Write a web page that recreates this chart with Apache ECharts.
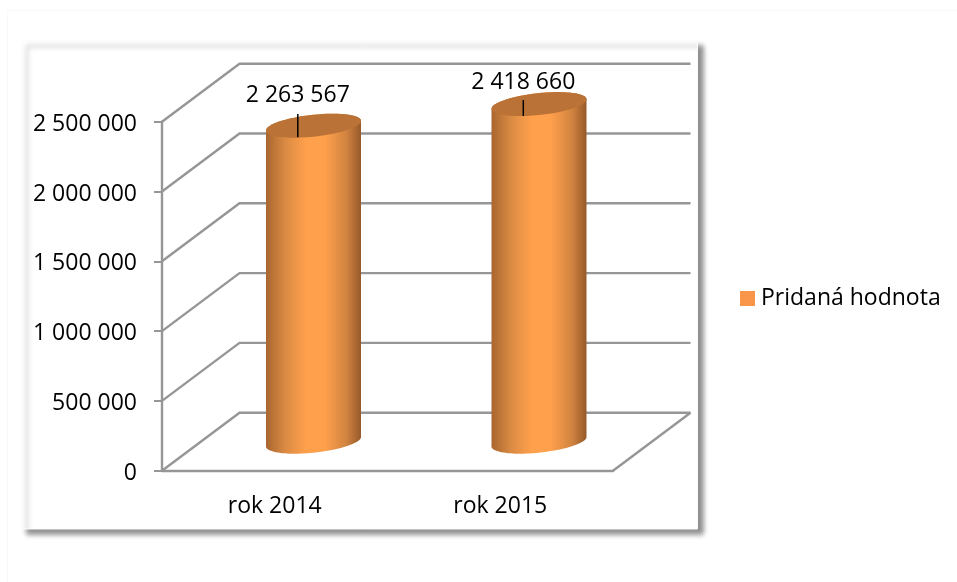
<!DOCTYPE html>
<html>
<head>
<meta charset="utf-8">
<style>
  html, body { margin: 0; padding: 0; background: #fff; }
  #chart { width: 957px; height: 582px; }
</style>
<script src="https://cdn.jsdelivr.net/npm/echarts@6/dist/echarts.min.js"></script>
</head>
<body>
<div id="chart"></div>
<script>
const categories = ['rok 2014', 'rok 2015'];
const values = [2263567, 2418660];
const yTicks = [0, 500000, 1000000, 1500000, 2000000, 2500000];
const seriesName = 'Pridaná hodnota';

// 3D look of the plot: how far the back wall sits from the front plane
const depthX = 77.5;
const depthY = 58;
const radiusX = 47.5;
const radiusY = 11;
const skew = 4.8;
// labels were moved by hand in the original
const labelLift = [30, 21.5];
const leaderFrom = [11.7, 4];
const leaderTo = [11.5, 12];
const leaderShift = -15.7;

const fontName = '"Open Sans", sans-serif';
const fontSize = 23;
const lineGray = '#969696';
const fmt = (v) => String(v).replace(/\B(?=(\d{3})+$)/g, ' ');

const chart = echarts.init(document.getElementById('chart'), null, { renderer: 'canvas' });

function ringPoints(cx, cy, from, to) {
  const pts = [];
  for (let i = 0; i <= 48; i++) {
    const t = from + (to - from) * i / 48;
    pts.push([
      cx + radiusX * Math.cos(t),
      cy + radiusY * Math.sin(t) - skew * Math.cos(t),
    ]);
  }
  return pts;
}

// back wall lines for one tick value
function renderWall(params, api) {
  const band = api.size([1, 0])[0];
  const c = api.coord([0, api.value(1)]);
  const left = c[0] - band / 2;
  const style = { stroke: lineGray, lineWidth: 2.4, fill: null };
  const children = [{
    type: 'polyline',
    shape: { points: [[left, c[1]], [left + depthX, c[1] - depthY], [left + 2 * band + depthX, c[1] - depthY]] },
    style,
  }];
  if (api.value(1) === 0) {
    children.push({
      type: 'line',
      shape: { x1: left + 2 * band, y1: c[1], x2: left + 2 * band + depthX, y2: c[1] - depthY },
      style,
    });
  }
  return { type: 'group', children };
}

function renderCylinder(params, api) {
  const i = api.value(0);
  const top = api.coord([i, api.value(1)]);
  const base = api.coord([i, 0]);
  const cx = top[0] + depthX / 2;
  const topY = top[1] - depthY / 2;
  const baseY = base[1] - depthY / 2;
  const side = ringPoints(cx, baseY, 0, Math.PI).concat(ringPoints(cx, topY, Math.PI, 2 * Math.PI));
  const lx = cx + leaderShift;
  return {
    type: 'group',
    children: [
      {
        type: 'polygon',
        shape: { points: side },
        style: {
          fill: new echarts.graphic.LinearGradient(0, 0, 1, 0, [
            { offset: 0, color: '#A9662F' },
            { offset: 0.2, color: '#D98A43' },
            { offset: 0.42, color: '#FFA04C' },
            { offset: 0.62, color: '#FFA04C' },
            { offset: 0.85, color: '#D08340' },
            { offset: 1, color: '#96592A' },
          ]),
        },
      },
      {
        type: 'polygon',
        shape: { points: ringPoints(cx, topY, 0, 2 * Math.PI) },
        style: { fill: '#BA7236' },
      },
      {
        type: 'line',
        shape: { x1: lx, y1: topY - leaderFrom[i], x2: lx, y2: topY + leaderTo[i] },
        style: { stroke: '#000', lineWidth: 1.5 },
      },
      {
        type: 'text',
        style: {
          x: lx,
          y: topY - labelLift[i],
          text: fmt(api.value(1)),
          fill: '#000',
          font: fontSize + 'px ' + fontName,
          align: 'center',
          verticalAlign: 'middle',
        },
      },
    ],
  };
}

const option = {
  backgroundColor: '#fff',
  animation: false,
  graphic: [
    {
      type: 'rect',
      z: -10,
      shape: { x: 7.5, y: 10.5, width: 970, height: 590 },
      style: { fill: '#fff', stroke: '#f9f9f9', lineWidth: 1 },
    },
    {
      type: 'rect',
      z: -9,
      shape: { x: 22, y: 41, width: 675.5, height: 488 },
      style: {
        fill: '#fff',
        stroke: '#fbfbfb',
        lineWidth: 1,
        shadowBlur: 5,
        shadowColor: 'rgba(0,0,0,0.44)',
        shadowOffsetX: 5,
        shadowOffsetY: 5,
      },
    },
  ],
  legend: {
    data: [seriesName],
    left: 740,
    top: 287,
    padding: 0,
    icon: 'rect',
    itemWidth: 15,
    itemHeight: 15,
    itemGap: 6,
    textStyle: { color: '#000', fontSize: fontSize, fontFamily: fontName, padding: [4, 0, 0, 1] },
  },
  grid: { left: 162, top: 121.7, width: 451, height: 349 },
  xAxis: {
    type: 'category',
    data: categories,
    axisLine: { lineStyle: { color: lineGray, width: 2.4 } },
    axisTick: { length: 8, lineStyle: { color: lineGray, width: 2 } },
    axisLabel: { color: '#000', fontSize: fontSize, fontFamily: fontName, margin: 24 },
  },
  yAxis: {
    type: 'value',
    min: 0,
    max: 2500000,
    interval: 500000,
    axisLine: { show: true, lineStyle: { color: lineGray, width: 2.4 } },
    axisTick: { show: true, length: 8, lineStyle: { color: lineGray, width: 2 } },
    splitLine: { show: false },
    axisLabel: { color: '#000', fontSize: fontSize, fontFamily: fontName, margin: 25, verticalAlign: 'top', lineHeight: 5, formatter: fmt },
  },
  series: [
    {
      type: 'custom',
      silent: true,
      z: 1,
      renderItem: renderWall,
      data: yTicks.map((t) => [0, t]),
    },
    {
      name: seriesName,
      type: 'custom',
      z: 2,
      itemStyle: { color: '#F9964A' },
      renderItem: renderCylinder,
      data: values.map((v, i) => [i, v]),
    },
  ],
};

chart.setOption(option);
</script>
</body>
</html>
